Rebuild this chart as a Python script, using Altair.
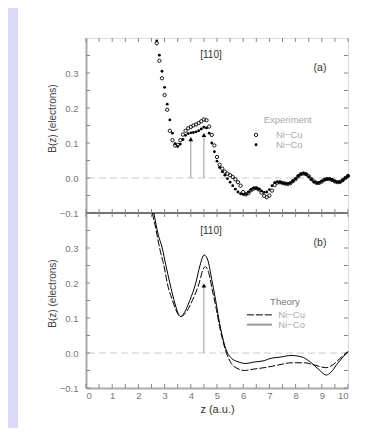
import altair as alt
import pandas as pd

# ---------------- data ----------------
# (a) experiment, z grid (a.u.)
z_exp = [2.7, 2.8, 2.9, 3.0, 3.1, 3.2, 3.3, 3.4, 3.5, 3.6,
         3.7, 3.8, 3.9, 4.0, 4.1, 4.2, 4.3, 4.4, 4.5, 4.6,
         4.7, 4.8, 4.9, 5.0, 5.1, 5.2, 5.3, 5.4, 5.5, 5.6,
         5.7, 5.8, 5.9, 6.0, 6.1, 6.2, 6.3, 6.4, 6.5, 6.6,
         6.7, 6.8, 6.9, 7.0, 7.1, 7.2, 7.3, 7.4, 7.5, 7.6,
         7.7, 7.8, 7.9, 8.0, 8.1, 8.2, 8.3, 8.4, 8.5, 8.6,
         8.7, 8.8, 8.9, 9.0, 9.1, 9.2, 9.3, 9.4, 9.5, 9.6,
         9.7, 9.8, 9.9, 10.0]
exp_nicu = [0.385, 0.335, 0.285, 0.237, 0.195, 0.135, 0.108, 0.093, 0.095, 0.108,
            0.124, 0.135, 0.142, 0.146, 0.150, 0.153, 0.157, 0.162, 0.167, 0.165,
            0.147, 0.123, 0.093, 0.060, 0.038, 0.027, 0.018, 0.012, 0.008, 0.003,
            -0.004, -0.012, -0.022, -0.040, -0.047, -0.043, -0.035, -0.030, -0.029, -0.033,
            -0.042, -0.051, -0.055, -0.050, -0.036, -0.020, -0.013, -0.012, -0.014, -0.016,
            -0.017, -0.015, -0.009, -0.003, 0.005, 0.011, 0.013, 0.011, 0.005, -0.003,
            -0.010, -0.014, -0.014, -0.010, -0.005, -0.003, -0.003, -0.006, -0.010, -0.012,
            -0.011, -0.006, 0.000, 0.006]
exp_nico = [0.392, 0.351, 0.305, 0.259, 0.211, 0.166, 0.128, 0.098, 0.090, 0.097,
            0.110, 0.122, 0.127, 0.129, 0.130, 0.132, 0.135, 0.140, 0.145, 0.143,
            0.128, 0.100, 0.075, 0.048, 0.030, 0.018, 0.008, -0.002, -0.012, -0.022,
            -0.032, -0.040, -0.045, -0.047, -0.046, -0.040, -0.033, -0.029, -0.029, -0.032,
            -0.037, -0.041, -0.040, -0.033, -0.022, -0.013, -0.011, -0.012, -0.014, -0.016,
            -0.016, -0.014, -0.008, -0.002, 0.006, 0.011, 0.013, 0.010, 0.004, -0.004,
            -0.011, -0.014, -0.013, -0.009, -0.005, -0.003, -0.003, -0.005, -0.009, -0.012,
            -0.011, -0.006, 0.000, 0.005]

# (b) theory
z_th_nicu = [2.53, 2.65, 2.81, 3.0, 3.1, 3.3, 3.45, 3.6, 3.75, 4.06, 4.32, 4.45, 4.55,
             4.68, 4.82, 4.95, 5.1, 5.27, 5.4, 5.55, 5.8, 6.05, 6.4, 6.8, 7.3, 7.83,
             8.35, 8.7, 9.0, 9.17, 9.4, 9.7, 10.0]
b_th_nicu = [0.40, 0.36, 0.30, 0.24, 0.20, 0.15, 0.12, 0.104, 0.11, 0.15, 0.20, 0.235, 0.247,
             0.23, 0.18, 0.135, 0.075, 0.022, -0.008, -0.030, -0.045, -0.050, -0.046, -0.042,
             -0.035, -0.028, -0.028, -0.034, -0.040, -0.042, -0.035, -0.015, 0.004]
z_th_nico = [2.59, 2.75, 2.91, 3.05, 3.2, 3.4, 3.55, 3.62, 3.75, 3.96, 4.19, 4.35, 4.51,
             4.65, 4.8, 4.95, 5.1, 5.27, 5.4, 5.55, 5.8, 6.1, 6.4, 6.8, 7.06, 7.4, 7.83,
             8.1, 8.3, 8.6, 8.9, 9.17, 9.35, 9.6, 9.8, 10.0]
b_th_nico = [0.40, 0.34, 0.30, 0.25, 0.20, 0.14, 0.108, 0.104, 0.115, 0.15, 0.20, 0.25, 0.28,
             0.265, 0.21, 0.15, 0.085, 0.028, 0.0, -0.015, -0.025, -0.030, -0.026, -0.022,
             -0.015, -0.012, -0.007, -0.009, -0.013, -0.028, -0.048, -0.063, -0.055, -0.03,
             -0.012, 0.004]

# marked positions (arrows)
arrow_a_z = [4.0, 4.5]
arrow_a_b = [0.111, 0.123]
arrow_b_z = [4.5]
arrow_b_b = [0.193]

# ticks / labels
x_labels = [0, 1, 2, 3, 4, 5, 6, 7, 8, 9, 10]
x_minor = [0.5, 1.5, 2.5, 3.5, 4.5, 5.5, 6.5, 7.5, 8.5, 9.5]
y_labels = [-0.1, 0.0, 0.1, 0.2, 0.3]
y_minor = [-0.05, 0.05, 0.15, 0.25, 0.35]

OFF = 0.5   # panel (a) sits 0.5 above panel (b) on the shared y scale
W, H = 262, 350

# ---------------- frames ----------------
exp_df = pd.DataFrame({"z": z_exp * 2, "B": exp_nicu + exp_nico,
                       "s": ["Ni−Cu"] * len(z_exp) + ["Ni−Co"] * len(z_exp)})
th_cu = pd.DataFrame({"z": z_th_nicu, "B": b_th_nicu})
th_co = pd.DataFrame({"z": z_th_nico, "B": b_th_nico})
arr_df = pd.DataFrame({"z": arrow_a_z + arrow_b_z, "B": arrow_a_b + arrow_b_b,
                       "p": ["a"] * len(arrow_a_z) + ["b"] * len(arrow_b_z)})

ylab_vals = y_labels + [v + OFF for v in y_labels]
xs = alt.Scale(domain=[0, 10], nice=False, zero=False)
ys = alt.Scale(domain=[-0.1, 0.9], nice=False, zero=False)

x_axis = alt.Axis(values=x_labels, format="d", title="z (a.u.)", titleFontSize=11,
                  titleFontWeight="normal", titleColor="#333", labelColor="#777",
                  labelFontSize=9.5, labelPadding=2, titlePadding=4, ticks=False, grid=False,
                  domainColor="#aaa", domainWidth=2)
y_axis = alt.Axis(values=ylab_vals, title=None, ticks=False, grid=False,
                  labelExpr="format(datum.value >= 0.35 ? datum.value - 0.5 : datum.value, '.1f')",
                  labelColor="#777", labelFontSize=9.5, labelPadding=8,
                  domainColor="#aaa", domainWidth=2)


def X(field="z"):
    return alt.X(f"{field}:Q", scale=xs, axis=x_axis)


def Y(field="y"):
    return alt.Y(f"{field}:Q", scale=ys, axis=y_axis)


shift_top = f"datum.B + {OFF}"

# side band
band = alt.Chart(pd.DataFrame({"a": [0]})).mark_rect(color="#dcd9f7").encode(
    x=alt.value(-78), x2=alt.value(-68), y=alt.value(-30), y2=alt.value(H + 40))

# zero dashed lines
zero_df = pd.DataFrame({"y": [0.0, OFF]})
zero = alt.Chart(zero_df).mark_rule(color="#cccccc", strokeDash=[7, 4], strokeWidth=1.2).encode(
    y=Y())

# junction line between panels
junc = alt.Chart(pd.DataFrame({"y": [0.4]})).mark_rule(color="#444", strokeWidth=1.5).encode(y=Y())

# x ticks
xt = pd.DataFrame({"z": x_labels + x_minor, "m": [1] * len(x_labels) + [0] * len(x_minor)})
def xtick_layer(y0, y1):
    return alt.Chart(xt).mark_rule(color="#888", strokeWidth=1).encode(
        x=X(), y=alt.value(y0), y2=alt.value(y1))
xticks = [xtick_layer(0, 4), xtick_layer(H / 2 - 4, H / 2 + 4), xtick_layer(H - 4, H)]

# y ticks (both panels, both sides)
yt = pd.DataFrame({"y": y_labels + y_minor + [v + OFF for v in y_labels + y_minor]})
ytick_l = alt.Chart(yt).mark_rule(color="#888", strokeWidth=1).encode(
    y=Y(), x=alt.value(0), x2=alt.value(4))
ytick_r = alt.Chart(yt).mark_rule(color="#888", strokeWidth=1).encode(
    y=Y(), x=alt.value(W - 4), x2=alt.value(W))

# arrows
arr_base = alt.Chart(arr_df).transform_calculate(
    y=f"datum.p == 'a' ? datum.B + {OFF} : datum.B",
    y0=f"datum.p == 'a' ? {OFF} : 0")
arr_rule = arr_base.mark_rule(color="#999", strokeWidth=1).encode(
    x=X(), y=Y(), y2="y0:Q")
arr_tri = arr_base.mark_point(shape="triangle-up", filled=True, color="black", size=22,
                              opacity=1).encode(x=X(), y=Y())

# experiment points
exp_base = alt.Chart(exp_df).transform_calculate(y=shift_top)
pts_cu = exp_base.transform_filter("datum.s == 'Ni−Cu'").mark_point(
    shape="circle", filled=False, color="black", size=11, strokeWidth=0.9, opacity=1).encode(
    x=X(), y=Y())
pts_co = exp_base.transform_filter("datum.s == 'Ni−Co'").mark_point(
    shape="circle", filled=True, color="black", size=8, opacity=1).encode(
    x=X(), y=Y())

# theory lines
line_cu = alt.Chart(th_cu).transform_calculate(y="datum.B").mark_line(
    color="black", strokeWidth=1, strokeDash=[7, 2], interpolate="monotone").encode(
    x=X(), y=Y())
line_co = alt.Chart(th_co).transform_calculate(y="datum.B").mark_line(
    color="black", strokeWidth=1, interpolate="monotone").encode(
    x=X(), y=Y())

# texts
def text_layer(rows, **kw):
    df = pd.DataFrame(rows, columns=["t", "z", "y"])
    return alt.Chart(df).mark_text(font="Liberation Sans", **kw).encode(
        x=X(), y=Y(), text="t:N")

panel_tags = text_layer([["[110]", 4.77, 0.351 + OFF], ["[110]", 4.77, 0.349]],
                        fontSize=10, color="#333")
panel_letters = text_layer([["(a)", 8.93, 0.313 + OFF], ["(b)", 8.93, 0.315]],
                           fontSize=10.5, color="#333")
leg_heads = text_layer([["Experiment", 7.70, 0.166 + OFF]], fontSize=9.5, color="#aaa")
leg_heads_b = text_layer([["Theory", 7.59, 0.147]], fontSize=9.5, color="#777")
leg_names = text_layer([["Ni−Cu", 7.25, 0.123 + OFF], ["Ni−Co", 7.25, 0.095 + OFF],
                        ["Ni−Cu", 7.34, 0.109], ["Ni−Co", 7.34, 0.081]],
                       fontSize=9.5, color="#aaa", align="left")

# legend symbols
leg_cu = alt.Chart(pd.DataFrame({"z": [6.49], "y": [0.123 + OFF]})).mark_point(
    shape="circle", filled=False, color="black", size=11, strokeWidth=0.9, opacity=1).encode(
    x=X(), y=Y())
leg_co = alt.Chart(pd.DataFrame({"z": [6.49], "y": [0.095 + OFF]})).mark_point(
    shape="circle", filled=True, color="black", size=8, opacity=1).encode(x=X(), y=Y())
leg_l_cu = alt.Chart(pd.DataFrame({"z": [6.14], "z2": [7.1], "y": [0.109]})).mark_rule(
    color="black", strokeWidth=1, strokeDash=[7, 2]).encode(x=X(), x2="z2:Q", y=Y())
leg_l_co = alt.Chart(pd.DataFrame({"z": [6.14], "z2": [7.1], "y": [0.081]})).mark_rule(
    color="#999", strokeWidth=2).encode(x=X(), x2="z2:Q", y=Y())

# y titles
ytitles = alt.Chart(pd.DataFrame({"t": ["B(z) (electrons)"] * 2, "y": [0.17 + OFF, 0.17]})).mark_text(
    font="Liberation Sans", fontSize=10, color="#444", angle=270).encode(
    x=alt.value(-33.5), y=Y(), text="t:N")

chart = alt.layer(
    band, zero, junc, *xticks, ytick_l, ytick_r, arr_rule, arr_tri,
    line_cu, line_co, pts_cu, pts_co,
    panel_tags, panel_letters, leg_heads, leg_heads_b, leg_names,
    leg_cu, leg_co, leg_l_cu, leg_l_co, ytitles
).properties(
    width=W, height=H,
    autosize=alt.AutoSizeParams(type="none"),
    padding={"left": 78, "top": 30, "right": 15, "bottom": 40},
    background="white"
).configure_view(stroke="#999", strokeWidth=1).configure(font="Liberation Sans")

chart.save("out.html", embed_options={"renderer": "svg", "actions": False})
